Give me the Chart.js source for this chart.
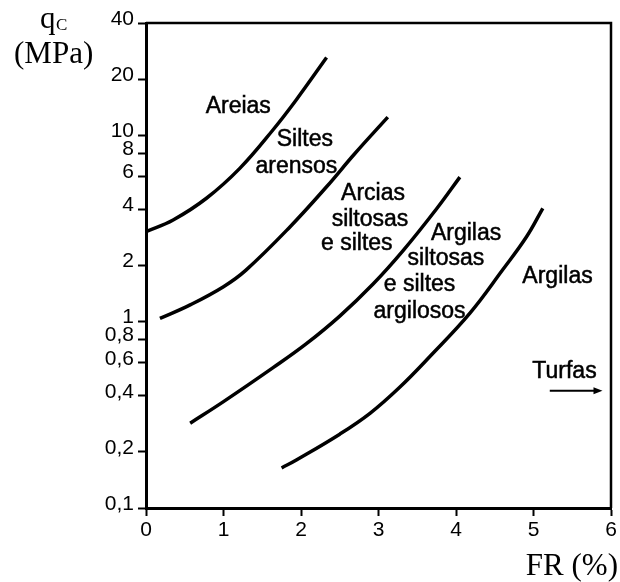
<!DOCTYPE html>
<html>
<head>
<meta charset="utf-8">
<script src="https://cdn.jsdelivr.net/npm/chart.js@4"></script>
<style>
  body { margin: 0; background: #fff; }
</style>
</head>
<body>
<canvas id="chart" width="620" height="582"></canvas>
<script>
// boundary curves, FR (%) vs qc (MPa)
const curve1X = [0, 0.35, 0.78, 1.21, 1.64, 1.94, 2.33];
const curve1Y = [3.04, 3.51, 4.59, 6.64, 10.7, 15.5, 26.1];
const curve2X = [0.18, 0.57, 1.00, 1.29, 1.86, 2.33, 2.69, 3.12];
const curve2Y = [1.04, 1.23, 1.54, 1.89, 3.23, 5.29, 7.93, 12.5];
const curve3X = [0.57, 1.00, 1.64, 2.07, 2.50, 2.93, 3.32, 3.75, 4.05];
const curve3Y = [0.285, 0.372, 0.566, 0.761, 1.07, 1.59, 2.41, 4.03, 5.96];
const curve4X = [1.75, 1.94, 2.50, 2.89, 3.27, 3.66, 4.18, 4.60, 4.91, 5.12];
const curve4Y = [0.164, 0.181, 0.249, 0.322, 0.443, 0.648, 1.11, 1.89, 2.85, 4.05];

const yTickValues = [0.1, 0.2, 0.4, 0.6, 0.8, 1, 2, 4, 6, 8, 10, 20, 40];
const yTickLabels = ['0,1', '0,2', '0,4', '0,6', '0,8', '1', '2', '4', '6', '8', '10', '20', '40'];
const xTickLabels = ['0', '1', '2', '3', '4', '5', '6'];

// zone names, anchored in data coords
const zoneTexts = ['Areias', 'Siltes', 'arensos', 'Arcias', 'siltosas', 'e siltes',
  'Argilas', 'siltosas', 'e siltes', 'argilosos', 'Argilas', 'Turfas'];
const zoneX = [1.19, 2.05, 1.94, 2.93, 2.89, 2.72, 4.13, 3.87, 3.53, 3.53, 5.31, 5.40];
const zoneY = [14.2, 9.43, 6.78, 4.88, 3.51, 2.63, 2.95, 2.17, 1.57, 1.13, 1.74, 0.539];
const arrowX = [5.21, 5.89];
const arrowY = 0.426;

const toPoints = (xs, ys) => xs.map((x, i) => ({x: x, y: ys[i]}));

const curveStyle = {
  borderColor: '#000',
  borderWidth: 3.5,
  pointRadius: 0,
  showLine: true,
  tension: 0.4,
  fill: false
};

const sans = 'Liberation Sans, Arial, sans-serif';
const serif = 'Liberation Serif, Times New Roman, serif';

const extras = {
  id: 'extras',
  afterDraw(chart) {
    const ctx = chart.ctx;
    const xs = chart.scales.x, ys = chart.scales.y;
    const a = chart.chartArea;
    ctx.save();
    // top and right of the frame
    ctx.strokeStyle = '#000';
    ctx.lineWidth = 2.5;
    ctx.beginPath();
    ctx.moveTo(a.left, a.top);
    ctx.lineTo(a.right, a.top);
    ctx.lineTo(a.right, a.bottom);
    ctx.stroke();

    ctx.fillStyle = '#000';
    ctx.font = '23px ' + sans;
    ctx.textAlign = 'center';
    ctx.textBaseline = 'middle';
    ctx.lineWidth = 0.5;
    zoneTexts.forEach((t, i) => {
      const px = xs.getPixelForValue(zoneX[i]);
      const py = ys.getPixelForValue(zoneY[i]);
      ctx.fillText(t, px, py);
      ctx.strokeText(t, px, py);
    });

    // Turfas arrow
    const ay = ys.getPixelForValue(arrowY);
    const ax0 = xs.getPixelForValue(arrowX[0]);
    const ax1 = xs.getPixelForValue(arrowX[1]);
    ctx.lineWidth = 2;
    ctx.beginPath();
    ctx.moveTo(ax0, ay);
    ctx.lineTo(ax1 - 6, ay);
    ctx.stroke();
    ctx.beginPath();
    ctx.moveTo(ax1, ay);
    ctx.lineTo(ax1 - 9, ay - 3.5);
    ctx.lineTo(ax1 - 9, ay + 3.5);
    ctx.closePath();
    ctx.fill();

    // axis titles
    ctx.textBaseline = 'alphabetic';
    ctx.textAlign = 'left';
    ctx.font = '31px ' + serif;
    ctx.fillText('q', 40, 28);
    ctx.font = '17px ' + serif;
    ctx.fillText('C', 56, 30);
    ctx.font = '31px ' + serif;
    ctx.fillText('(MPa)', 14, 63);
    ctx.textAlign = 'right';
    ctx.fillText('FR (%)', 618, 575);
    ctx.restore();
  }
};

new Chart(document.getElementById('chart'), {
  type: 'scatter',
  data: {
    datasets: [
      Object.assign({data: toPoints(curve1X, curve1Y)}, curveStyle),
      Object.assign({data: toPoints(curve2X, curve2Y)}, curveStyle),
      Object.assign({data: toPoints(curve3X, curve3Y)}, curveStyle),
      Object.assign({data: toPoints(curve4X, curve4Y)}, curveStyle)
    ]
  },
  options: {
    responsive: false,
    animation: false,
    layout: {padding: {top: 23, right: 9, left: 0, bottom: 0}},
    plugins: {
      legend: {display: false},
      tooltip: {enabled: false}
    },
    scales: {
      x: {
        type: 'linear',
        min: 0,
        max: 6,
        afterFit: s => { s.height = 74; },
        ticks: {
          stepSize: 1,
          color: '#000',
          padding: 2,
          font: {family: sans, size: 21},
          callback: (v, i) => xTickLabels[i]
        },
        grid: {drawOnChartArea: false, color: '#000', tickLength: 8, tickWidth: 2},
        border: {color: '#000', width: 3}
      },
      y: {
        type: 'logarithmic',
        min: 0.1,
        max: 40,
        afterBuildTicks: s => { s.ticks = yTickValues.map(v => ({value: v})); },
        afterFit: s => { s.width = 146; },
        ticks: {
          autoSkip: false,
          color: '#000',
          padding: 4,
          labelOffset: -4,
          font: {family: sans, size: 21},
          callback: (v, i) => yTickLabels[i]
        },
        grid: {drawOnChartArea: false, color: '#000', tickLength: 8, tickWidth: 2},
        border: {color: '#000', width: 3}
      }
    }
  },
  plugins: [extras]
});
</script>
</body>
</html>
